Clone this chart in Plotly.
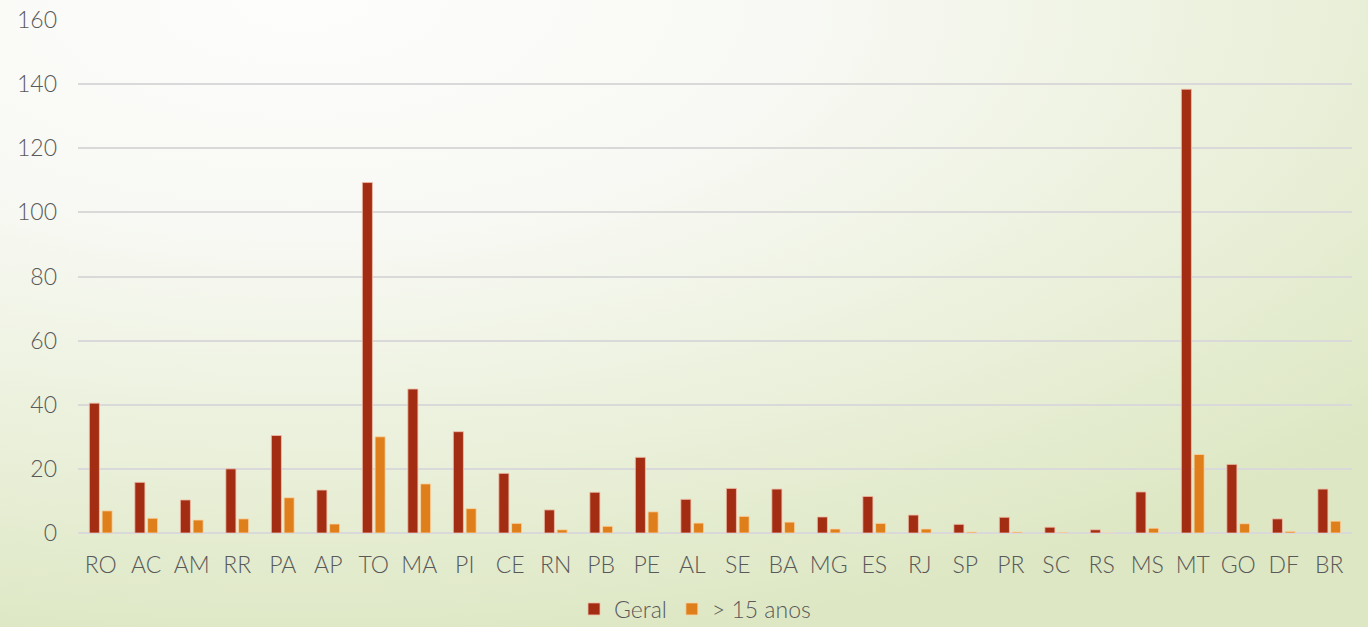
import plotly.graph_objects as go
import base64

categories = ["RO", "AC", "AM", "RR", "PA", "AP", "TO", "MA", "PI", "CE", "RN", "PB", "PE", "AL",
              "SE", "BA", "MG", "ES", "RJ", "SP", "PR", "SC", "RS", "MS", "MT", "GO", "DF", "BR"]
geral = [40.5, 15.8, 10.3, 20.0, 30.4, 13.4, 109.3, 44.9, 31.6, 18.6, 7.2, 12.7, 23.6, 10.5,
         13.9, 13.7, 5.0, 11.4, 5.6, 2.7, 4.9, 1.8, 1.0, 12.8, 138.4, 21.4, 4.4, 13.7]
mais15 = [6.9, 4.6, 4.05, 4.4, 11.0, 2.8, 30.0, 15.3, 7.6, 3.0, 1.0, 2.1, 6.6, 3.1,
          5.2, 3.4, 1.25, 3.0, 1.25, 0.3, 0.3, 0.2, 0.0, 1.5, 24.5, 2.9, 0.5, 3.7]
y_ticks = [0, 20, 40, 60, 80, 100, 120, 140, 160]

FONT = "Lato, 'Noto Sans', sans-serif"
TXT = "#595959"

svg = """<svg xmlns='http://www.w3.org/2000/svg' width='1368' height='627' viewBox='0 0 1368 627' preserveAspectRatio='none'>
<defs><radialGradient id='g' cx='0.22' cy='0.0' r='1.05' gradientUnits='objectBoundingBox'>
<stop offset='0' stop-color='#fdfdfc'/><stop offset='0.35' stop-color='#f8f9f4'/>
<stop offset='0.7' stop-color='#eaf0da'/><stop offset='1' stop-color='#dde7c3'/></radialGradient></defs>
<rect width='1368' height='627' fill='url(#g)'/></svg>"""
bg = "data:image/svg+xml;base64," + base64.b64encode(svg.encode()).decode()

fig = go.Figure()
fig.add_trace(go.Bar(name="Geral", x=categories, y=geral, marker_color="#a32d12",
                     marker_line=dict(color="rgba(240,190,170,0.8)", width=1)))
fig.add_trace(go.Bar(name="> 15 anos", x=categories, y=mais15, marker_color="#df7f1b",
                     marker_line=dict(color="rgba(250,215,170,0.8)", width=1)))

fig.update_layout(
    width=1368, height=627,
    margin=dict(l=78, r=16, t=20, b=94, autoexpand=False),
    paper_bgcolor="rgba(0,0,0,0)", plot_bgcolor="rgba(0,0,0,0)",
    barmode="group", bargap=0.44, bargroupgap=0.21,
    font=dict(family=FONT, color=TXT, size=22, weight=300),
    images=[dict(source=bg, xref="paper", yref="paper", x=-78/1274, y=1 + 20/513,
                 sizex=1368/1274, sizey=627/513, xanchor="left", yanchor="top",
                 sizing="stretch", layer="below")],
    showlegend=True,
    legend=dict(orientation="h", xref="container", yref="container",
                x=695/1368, xanchor="center", y=1 - 609/627, yanchor="middle",
                font=dict(family=FONT, color=TXT, size=23, weight=300), bgcolor="rgba(0,0,0,0)",
                itemwidth=30, traceorder="normal"),
)
fig.update_xaxes(showgrid=False, showline=False, zeroline=False, ticks="",
                 tickfont=dict(family=FONT, color=TXT, size=23, weight=300), ticklabelstandoff=16)
fig.update_yaxes(range=[0, 160], tickvals=y_ticks, showgrid=True, gridcolor="#d9d9d9",
                 gridwidth=1.5, zeroline=True, zerolinecolor="#d9d9d9", zerolinewidth=1.5,
                 showline=False, ticks="", tickfont=dict(family=FONT, color=TXT, size=23, weight=300),
                 ticklabelstandoff=20)

fig.write_html("out.html")
